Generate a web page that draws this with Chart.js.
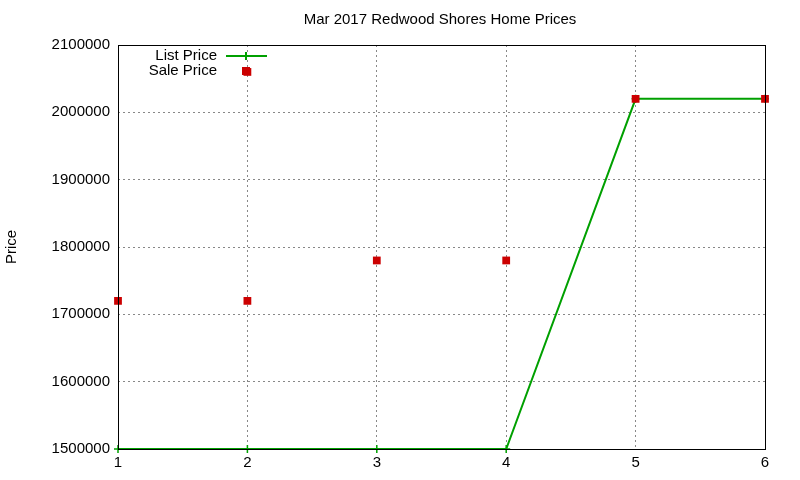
<!DOCTYPE html>
<html><head><meta charset="utf-8">
<script src="https://cdn.jsdelivr.net/npm/chart.js@4"></script>
<style>body{margin:0;background:#fff}#wrap{width:800px;height:480px}</style>
</head><body><div id="wrap"><canvas id="c"></canvas></div>
<script>
const xValues = [1, 2, 3, 4, 5, 6];
const listPrice = [1500000, 1500000, 1500000, 1500000, 2020000, 2020000];
const saleX = [1, 2, 2, 3, 4, 5, 6];
const salePrice = [1720000, 1720000, 2060000, 1780000, 1780000, 2020000, 2020000];
const yTicks = [1500000, 1600000, 1700000, 1800000, 1900000, 2000000, 2100000];
const titleText = 'Mar 2017 Redwood Shores Home Prices';
const yLabel = 'Price';
const FONT = '"Liberation Sans", Arial, sans-serif';
const GREEN = '#00a000', RED = '#cc0000';

const overlay = {
  id: 'overlay',
  afterDraw(chart) {
    const ctx = chart.ctx, a = chart.chartArea;
    ctx.save();
    ctx.strokeStyle = '#000'; ctx.lineWidth = 1;
    ctx.strokeRect(a.left + 0.5, a.top + 0.5, a.right - a.left, a.bottom - a.top);
    ctx.fillStyle = '#000';
    ctx.font = '15px ' + FONT;
    ctx.textAlign = 'center'; ctx.textBaseline = 'middle';
    ctx.fillText(titleText, 440, 20);
    ctx.save(); ctx.translate(12, 247); ctx.rotate(-Math.PI / 2);
    ctx.fillText(yLabel, 0, 0); ctx.restore();
    ctx.textAlign = 'right';
    ctx.fillText('List Price', 217, 56);
    ctx.fillText('Sale Price', 217, 71);
    ctx.strokeStyle = GREEN; ctx.lineWidth = 2;
    ctx.beginPath(); ctx.moveTo(226, 56); ctx.lineTo(267, 56);
    ctx.moveTo(246, 52); ctx.lineTo(246, 60); ctx.stroke();
    ctx.fillStyle = RED; ctx.fillRect(242, 67, 8, 8);
    ctx.restore();
  }
};

new Chart(document.getElementById('c'), {
  type: 'scatter',
  data: {
    datasets: [
      { label: 'Sale Price', data: saleX.map((x, i) => ({x, y: salePrice[i]})), showLine: false, order: 0, clip: false,
        borderColor: RED, backgroundColor: RED, pointStyle: 'rect', pointRadius: 5.5, pointBorderWidth: 0 },
      { label: 'List Price', data: xValues.map((x, i) => ({x, y: listPrice[i]})), showLine: true, order: 1, clip: false,
        borderColor: GREEN, backgroundColor: GREEN, borderWidth: 2, pointStyle: 'cross', pointRadius: 4, pointBorderWidth: 1.5 }
    ]
  },
  options: {
    responsive: true, maintainAspectRatio: false, animation: false,
    layout: { padding: { top: 45, right: 35, left: 0, bottom: 0 } },
    plugins: { legend: { display: false }, title: { display: false }, tooltip: { enabled: false } },
    scales: {
      x: { type: 'linear', min: 1, max: 6,
        afterFit(s) { s.height = 31; },
        grid: { color: '#888', drawTicks: false },
        border: { display: false, dash: [2, 3] },
        ticks: { stepSize: 1, color: '#000', font: { size: 15, family: FONT }, padding: 5 } },
      y: { min: 1500000, max: 2100000,
        afterFit(s) { s.width = 118; },
        afterBuildTicks(s) { s.ticks = yTicks.map(v => ({value: v})); },
        grid: { color: '#888', drawTicks: false },
        border: { display: false, dash: [2, 3] },
        ticks: { color: '#000', font: { size: 15, family: FONT }, padding: 8, callback: v => String(v) } }
    }
  },
  plugins: [overlay]
});
</script></body></html>
